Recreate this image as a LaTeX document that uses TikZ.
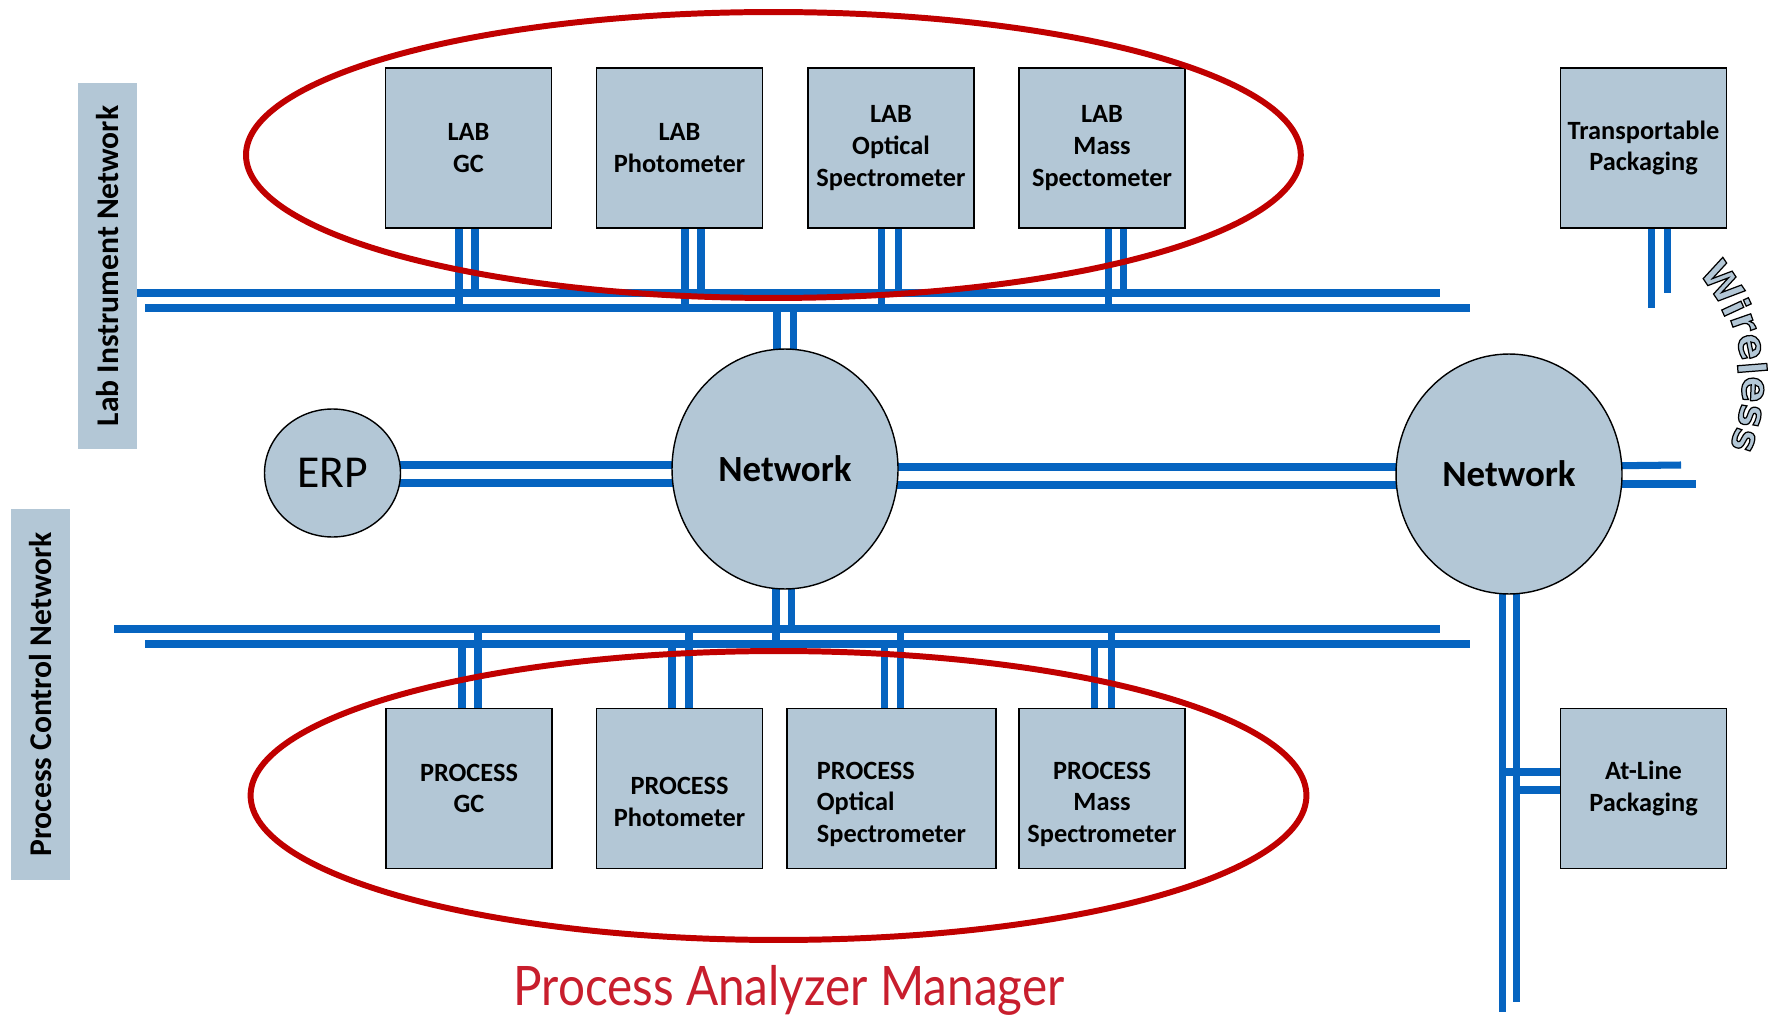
\documentclass[tikz,border=0pt]{standalone}
\usepackage{fontspec}
\setmainfont{Carlito}
\newfontfamily\titlefont{Lato}
\newfontfamily\wirefont{DejaVu Sans}
\definecolor{boxGray}{RGB}{179,199,214}
\definecolor{busBlue}{RGB}{6,100,192}
\definecolor{ringRed}{RGB}{192,0,0}
\definecolor{titleRed}{RGB}{200,30,45}
\usetikzlibrary{shapes.geometric, positioning, calc, backgrounds}

\newcommand{\lowered}[2]{\raisebox{-9pt}[\height][\depth]{\begin{tabular}{@{}#1@{}}#2\end{tabular}}}
% outlined letter: fill in current colour, black stroke
\newcommand{\outlined}[1]{\special{pdf:literal direct 0 0 0 RG 0.7 w 2 Tr}#1\special{pdf:literal direct 0 Tr}}

\begin{document}
\begin{tikzpicture}[x=0.02cm, y=-0.02cm,
  inst/.style={rectangle, draw=black, line width=1pt, fill=boxGray, inner sep=0pt,
               minimum width=3.32cm, minimum height=3.2cm, align=center,
               font=\fontsize{15}{18}\selectfont\bfseries},
  hub/.style={ellipse, draw=black, line width=0.8pt, fill=boxGray,
              minimum width=4.52cm, minimum height=4.8cm,
              font=\fontsize{21}{25}\selectfont\bfseries},
  tag/.style={rectangle, fill=boxGray, rotate=90, minimum height=1.18cm,
              font=\fontsize{18}{21}\selectfont\bfseries},
  bus/.style={draw=busBlue, line width=4pt},
  ring/.style={draw=ringRed, line width=3.4pt}
]
  \useasboundingbox (0,0) rectangle (1773,1016);

  % side labels
  \node[tag, minimum width=7.32cm] (labtag) at (107.5,266) {Lab Instrument Network};
  \node[tag, minimum width=7.42cm] (proctag) at (40.5,694.5) {Process Control Network};

  % lab instruments
  \node[inst] (labgc) at (468.5,148) {LAB\\GC};
  \node[inst] (labphoto) at (679.5,148) {LAB\\Photometer};
  \node[inst] (labopt) at (891,148) {LAB\\Optical\\Spectrometer};
  \node[inst] (labmass) at (1102,148) {LAB\\Mass\\Spectometer};
  \node[inst] (transp) at (1643.5,148) {Transportable\\Packaging};

  % process instruments
  \node[inst] (procgc) at (469,788.5) {PROCESS\\GC};
  \node[inst] (procphoto) at (679.5,788.5) {\lowered{c}{PROCESS\\Photometer}};
  \node[inst, minimum width=4.18cm] (procopt) at (891.5,788.5) {\lowered{l}{PROCESS\\Optical\\Spectrometer}};
  \node[inst] (procmass) at (1102,788.5) {\lowered{c}{PROCESS\\Mass\\Spectrometer}};
  \node[inst] (atline) at (1643.5,788.5) {At-Line\\Packaging};

  % hubs
  \node[hub] (net1) at (785,469) {Network};
  \node[hub] (net2) at (1509,474) {Network};
  \node[ellipse, draw=black, line width=0.8pt, fill=boxGray, minimum width=2.72cm,
        minimum height=2.56cm, font=\fontsize{26}{30}\selectfont] (erp) at (332.5,473) {ERP};

  % bus ends
  \coordinate (labbusA) at (137,293);  \coordinate (labbusAend) at (1440,293);
  \coordinate (labbusB) at (145,308);  \coordinate (labbusBend) at (1470,308);
  \coordinate (procbusA) at (114,629); \coordinate (procbusAend) at (1440,629);
  \coordinate (procbusB) at (145,644); \coordinate (procbusBend) at (1470,644);
  \coordinate (wireA) at (1681,465);   \coordinate (wireB) at (1696,484);
  \coordinate (plantA) at (1502,1012); \coordinate (plantB) at (1516,1002);

  \begin{scope}[on background layer]
    \draw[bus] (labbusA) -- (labbusAend);
    \draw[bus] (labbusB) -- (labbusBend);
    \draw[bus] (procbusA) -- (procbusAend);
    \draw[bus] (procbusB) -- (procbusBend);

    \foreach \n/\xa/\xb in {labgc/459/475, labphoto/685/701, labopt/881/898, labmass/1108/1123, transp/1651/1667} {
      \draw[bus] (\xa,0 |- \n.center) -- (\xa,0 |- labbusB);
      \draw[bus] (\xb,0 |- \n.center) -- (\xb,0 |- labbusA);
    }
    \foreach \n/\xa/\xb in {procgc/462/478, procphoto/672/689, procopt/884/900, procmass/1094/1111} {
      \draw[bus] (\xa,0 |- \n.center) -- (\xa,0 |- procbusB);
      \draw[bus] (\xb,0 |- \n.center) -- (\xb,0 |- procbusA);
    }

    \draw[bus] (777,0 |- net1.center) -- (777,0 |- labbusB);
    \draw[bus] (793,0 |- net1.center) -- (793,0 |- labbusB);
    \draw[bus] (776,0 |- net1.center) -- (776,0 |- procbusB);
    \draw[bus] (791,0 |- net1.center) -- (791,0 |- procbusA);

    \draw[bus] (erp.center |- 0,465) -- (net1.center |- 0,465);
    \draw[bus] (erp.center |- 0,483) -- (net1.center |- 0,483);
    \draw[bus] (net1.center |- 0,467) -- (net2.center |- 0,467);
    \draw[bus] (net1.center |- 0,485) -- (net2.center |- 0,485);
    \draw[bus] (net2.center |- 0,467) -- (wireA);
    \draw[bus] (net2.center |- 0,484) -- (wireB);

    \draw[bus] (1502,0 |- net2.center) -- (plantA);
    \draw[bus] (1516,0 |- net2.center) -- (plantB);
    \draw[bus] (1502,772) -- (atline.center |- 0,772);
    \draw[bus] (1516,790) -- (atline.center |- 0,790);
  \end{scope}

  % analyzer groups
  \draw[ring] (773.4,155) ellipse [x radius=10.55cm, y radius=2.86cm];
  \draw[ring] (778.5,795.5) ellipse [x radius=10.56cm, y radius=2.89cm];

  % wireless
  \foreach \ch/\ang [count=\i] in {W/34, i/24.8, r/19.2, e/11.3, l/4.5, e/-2.4, s/-10.9, s/-18.9} {
    \node[font=\wirefont\bfseries\fontsize{22}{22}\selectfont, rotate=\ang-90, inner sep=0pt]
      (wire\i) at ($(1574,382)+(\ang:3.58cm)$) {\textcolor{boxGray}{\outlined{\ch}}};
  }

  \node[anchor=base, text=titleRed, font=\titlefont\fontsize{31}{36}\selectfont] (pam)
    at (789,1005) {\scalebox{0.875}[1]{Process Analyzer Manager}};
\end{tikzpicture}
\end{document}
